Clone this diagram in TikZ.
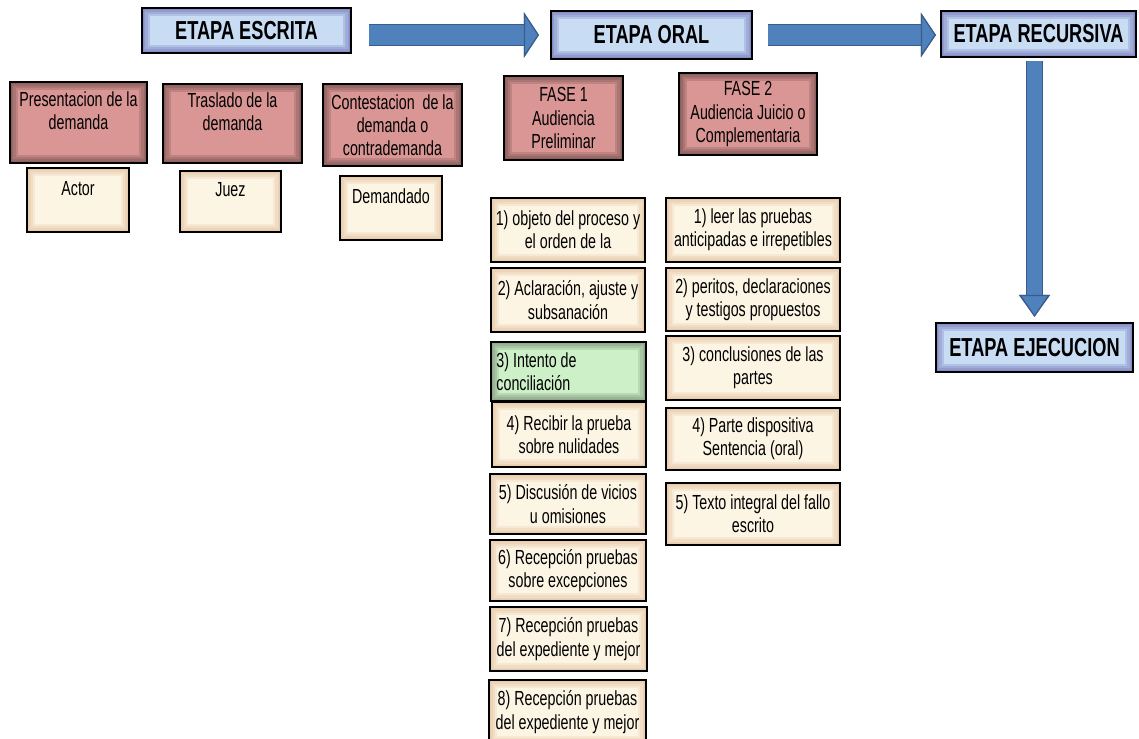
\documentclass[tikz,border=0pt]{standalone}
\usepackage{fontspec}
\setmainfont{Liberation Sans}[FakeStretch=0.7]
\usepackage{tikz}
\usetikzlibrary{arrows.meta,positioning}
\definecolor{headblue}{RGB}{200,220,244}
\definecolor{rosebox}{RGB}{217,150,148}
\definecolor{creambox}{RGB}{253,245,228}
\definecolor{greenbox}{RGB}{206,240,200}
\definecolor{arrowblue}{RGB}{79,129,189}
\definecolor{arrowdark}{RGB}{56,93,138}

\tikzset{
  % soft darker rim inside the box
  bevel/.style={path picture={\foreach \w in {12pt,8pt,5pt,2.5pt}
      \draw[#1, line width=\w, opacity=.2]
      (path picture bounding box.south west) rectangle (path picture bounding box.north east);}},
  box/.style={draw=black, line width=1.5pt, align=center, inner sep=2pt,
      font=\fontsize{14.5}{16.5}\selectfont},
  stage/.style={box, fill=headblue, bevel=gray!70!blue,
      font=\fontsize{18.5}{20}\selectfont\bfseries},
  phase/.style={box, fill=rosebox, bevel=rosebox!40!black},
  itembox/.style={box, fill=creambox, bevel=creambox!45!brown},
  bigarrow/.style n args={3}{line width=#1, arrowblue,
      -{Triangle[length=#3, width=#2, fill=arrowblue, color=arrowdark, line width=0.8pt]},
      preaction={draw=arrowdark, line width=#1+1.6pt, -{Triangle[length=#3, width=#2]}}}
}

\begin{document}
\begin{tikzpicture}[x=0.025cm, y=-0.025cm]
  \useasboundingbox (0,0) rectangle (1139,738);
  \clip (0,0) rectangle (1139,738);

  % Stages
  \node[stage, minimum width=5.225cm, minimum height=1.125cm] (escrita) at (246.5,30.5) {ETAPA ESCRITA};
  \node[stage, minimum width=5.025cm, minimum height=1.2cm] (oral) at (651.5,35) {ETAPA ORAL};
  \node[stage, minimum width=4.875cm, minimum height=1.15cm] (recursiva) at (1038.5,34) {ETAPA RECURSIVA};
  \node[stage, minimum width=4.925cm, minimum height=1.225cm] (ejecucion) at (1034.5,347.5) {ETAPA EJECUCION};

  % Block arrows between stages
  \draw[bigarrow={0.5cm}{1.125cm}{0.375cm}, shorten <=0.425cm, shorten >=0.275cm]
    (escrita.east |- oral.west) -- (oral.west);
  \draw[bigarrow={0.5cm}{1.1cm}{0.375cm}, shorten <=0.375cm, shorten >=0.1cm]
    (oral.east) -- (recursiva.west |- oral.east);
  \draw[bigarrow={0.36cm}{0.75cm}{0.55cm}, shorten <=0.075cm, shorten >=0.125cm]
    (ejecucion.north |- recursiva.south) -- (ejecucion.north);

  % Written stage
  \node[phase, minimum width=3.425cm, minimum height=2.025cm] (presentacion) at (78.5,122.5) {Presentacion de la\\demanda\\~};
  \node[phase, minimum width=3.475cm, minimum height=1.975cm] (traslado) at (232.5,123.5) {Traslado de la\\demanda\\~};
  \node[phase, minimum width=3.475cm, minimum height=2.05cm] (contestacion) at (392.5,125) {Contestacion\ \ de la\\demanda o\\contrademanda};

  \node[itembox, minimum width=2.55cm, minimum height=1.6cm] (actor) at (78,200) {Actor\\~};
  \node[itembox, minimum width=2.525cm, minimum height=1.525cm] (juez) at (230.5,201.5) {Juez\\~};
  \node[itembox, minimum width=2.55cm, minimum height=1.6cm] (demandado) at (391,208) {Demandado\\~};

  % Oral stage phases
  \node[phase, minimum width=2.975cm, minimum height=2.1cm] (fase1) at (563.5,118) {FASE 1\\Audiencia\\Preliminar};
  \node[phase, minimum width=3.45cm, minimum height=2.05cm] (fase2) at (748,114) {FASE 2\\Audiencia Juicio o\\Complementaria};

  % Phase 1 steps
  \node[itembox, minimum width=3.85cm, minimum height=1.6cm] (pre1) at (568,230) {1) objeto del proceso y\\el orden de la};
  \node[itembox, minimum width=3.85cm, minimum height=1.6cm] (pre2) at (568,300) {2) Aclaración, ajuste y\\subsanación};
  \node[box, fill=greenbox, bevel=greenbox!50!black, minimum width=3.875cm, minimum height=1.475cm,
    text width=3.6cm, align=flush left] (pre3) at (568.5,371.5) {3) Intento de\\conciliación};
  \node[itembox, minimum width=3.85cm, minimum height=1.625cm] (pre4) at (569,434.5) {4) Recibir la prueba\\sobre nulidades};
  \node[itembox, minimum width=3.9cm, minimum height=1.5cm] (pre5) at (568,504) {5) Discusión de vicios\\u omisiones};
  \node[itembox, minimum width=3.9cm, minimum height=1.525cm] (pre6) at (568,570.5) {6) Recepción pruebas\\sobre excepciones};
  \node[itembox, minimum width=3.925cm, minimum height=1.6cm] (pre7) at (568.5,639) {7) Recepción pruebas\\del expediente y mejor};
  \node[itembox, minimum width=3.925cm, minimum height=1.6cm] (pre8) at (567.5,712) {8) Recepción pruebas\\del expediente y mejor};

  % Phase 2 steps
  \node[itembox, minimum width=4.35cm, minimum height=1.6cm] (jui1) at (753,230) {1) leer las pruebas\\anticipadas e irrepetibles};
  \node[itembox, minimum width=4.35cm, minimum height=1.575cm] (jui2) at (753,299.5) {2) peritos, declaraciones\\y testigos propuestos};
  \node[itembox, minimum width=4.35cm, minimum height=1.6cm] (jui3) at (753,368) {3) conclusiones de las\\partes};
  \node[itembox, minimum width=4.35cm, minimum height=1.55cm] (jui4) at (753,439) {4) Parte dispositiva\\Sentencia (oral)};
  \node[itembox, minimum width=4.35cm, minimum height=1.55cm] (jui5) at (753,514) {5) Texto integral del fallo\\escrito};
\end{tikzpicture}
\end{document}
